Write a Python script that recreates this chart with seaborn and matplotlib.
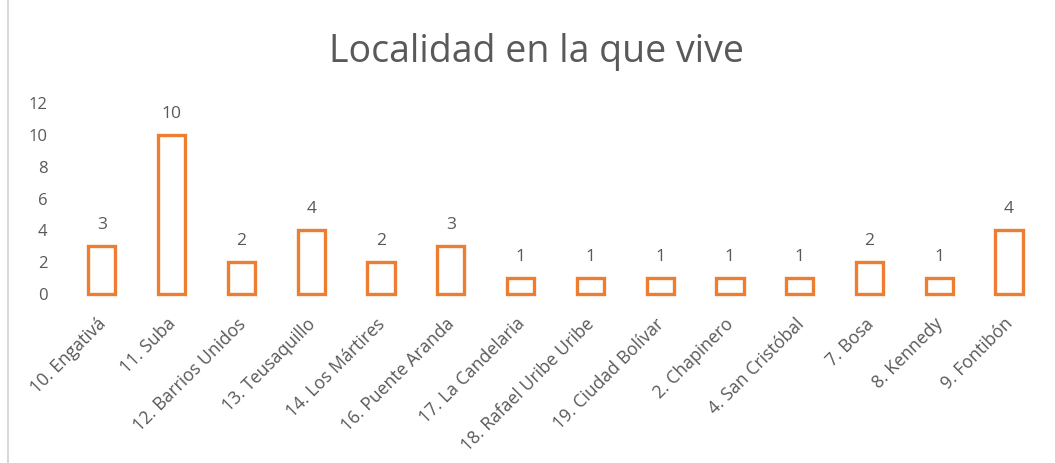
import matplotlib
matplotlib.use("Agg")
import matplotlib.pyplot as plt
import matplotlib.transforms as mtransforms
import seaborn as sns
from matplotlib.lines import Line2D

localidades = [
    "10. Engativá", "11. Suba", "12. Barrios Unidos", "13. Teusaquillo",
    "14. Los Mártires", "16. Puente Aranda", "17. La Candelaria",
    "18. Rafael Uribe Uribe", "19. Ciudad Bolívar", "2. Chapinero",
    "4. San Cristóbal", "7. Bosa", "8. Kennedy", "9. Fontibón",
]
conteos = [3, 10, 2, 4, 2, 3, 1, 1, 1, 1, 1, 2, 1, 4]
y_ticks = [0, 2, 4, 6, 8, 10, 12]

TEXT = "#595959"
ORANGE = "#ED7D31"

sns.set_style("white")
plt.rcParams["font.family"] = ["Open Sans", "DejaVu Sans"]

fig = plt.figure(figsize=(10.55, 4.63), dpi=100)
ax = fig.add_axes([0.0635, 0.365, 0.926, 0.4125])

sns.barplot(x=localidades, y=conteos, color="white", edgecolor=ORANGE,
            linewidth=2.4, width=0.39, saturation=1, ax=ax)
for p in ax.patches:
    p.set_clip_on(False)

for i, v in enumerate(conteos):
    ax.text(i, v + 1.32, str(v), ha="center", va="center", fontsize=12.5, color=TEXT)

ax.set_ylim(0, 12)
ax.set_xlim(-0.5, len(localidades) - 0.5)
ax.set_yticks(y_ticks)
ax.set_yticklabels([str(t) for t in y_ticks], fontsize=12, color=TEXT)
ax.set_xticks(range(len(localidades)))
ax.set_xticklabels(localidades, rotation=45, ha="right", va="top",
                   rotation_mode="anchor", fontsize=12.7, color=TEXT)
ax.tick_params(axis="x", length=0, pad=10)
ax.tick_params(axis="y", length=0, pad=14)
shift = mtransforms.ScaledTranslation(-0.05, -0.07, fig.dpi_scale_trans)
for lab in ax.get_xticklabels():
    lab.set_transform(lab.get_transform() + shift)
for s in ax.spines.values():
    s.set_visible(False)

fig.text(0.509, 0.888, "Localidad en la que vive", ha="center", va="center",
         fontsize=27, color=TEXT)
fig.add_artist(Line2D([8 / 1055, 8 / 1055], [0, 1], transform=fig.transFigure,
                      color="#D9D9D9", linewidth=1.5))

fig.savefig("out.png", dpi=100)
